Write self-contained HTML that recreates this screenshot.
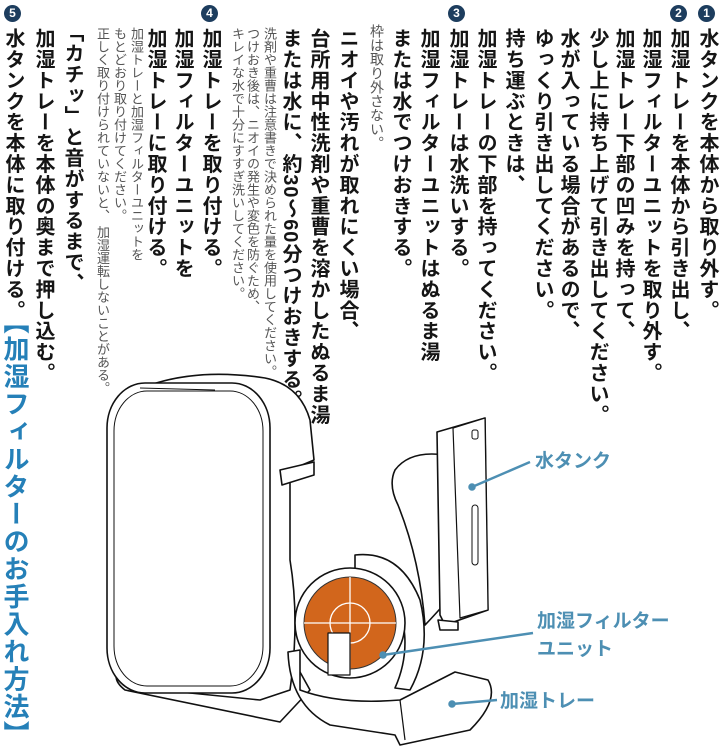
<!DOCTYPE html>
<html><head><meta charset="utf-8"><style>
html,body{margin:0;padding:0;background:#fff;}
body{width:720px;height:746px;position:relative;overflow:hidden;font-family:"Liberation Sans","Noto Sans CJK JP",sans-serif;}
.v{position:absolute;writing-mode:vertical-rl;white-space:nowrap;line-height:1;}
.m{font-size:20px;font-weight:bold;color:#151515;width:20px;letter-spacing:0.9px;}
.s{font-size:13px;color:#555;width:13px;}
.n{position:absolute;width:17px;height:17px;border-radius:50%;background:#1d3d5e;color:#fff;font:bold 12px "Liberation Sans",sans-serif;text-align:center;line-height:17px;}
.lbl{position:absolute;font-size:19px;font-weight:bold;color:#4d8fb3;white-space:nowrap;line-height:1;}
</style></head><body>
<div class="n" style="left:698px;top:5px">1</div>
<div class="v m" style="left:697px;top:28px">水タンクを本体から取り外す。</div>
<div class="n" style="left:670px;top:5px">2</div>
<div class="v m" style="left:668px;top:28px">加湿トレーを本体から引き出し、</div>
<div class="v m" style="left:640px;top:28px">加湿フィルターユニットを取り外す。</div>
<div class="v m" style="left:613px;top:28px">加湿トレー下部の凹みを持って、</div>
<div class="v m" style="left:587px;top:28px">少し上に持ち上げて引き出してください。</div>
<div class="v m" style="left:558px;top:28px">水が入っている場合があるので、</div>
<div class="v m" style="left:532px;top:28px">ゆっくり引き出してください。</div>
<div class="v m" style="left:503px;top:28px">持ち運ぶときは、</div>
<div class="v m" style="left:475px;top:28px">加湿トレーの下部を持ってください。</div>
<div class="n" style="left:448px;top:5px">3</div>
<div class="v m" style="left:447px;top:28px">加湿トレーは水洗いする。</div>
<div class="v m" style="left:418px;top:28px">加湿フィルターユニットはぬるま湯</div>
<div class="v m" style="left:390px;top:28px">または水でつけおきする。</div>
<div class="v s" style="left:370px;top:24px;font-size:14px;width:14px">枠は取り外さない。</div>

<div class="v m" style="left:337px;top:28px">ニオイや汚れが取れにくい場合、</div>
<div class="v m" style="left:308px;top:28px">台所用中性洗剤や重曹を溶かしたぬるま湯</div>
<div class="v m" style="left:280px;top:28px">または水に、約30〜60分つけおきする。</div>
<div class="v s" style="left:263px;top:27px">洗剤や重曹は注意書きで決められた量を使用してください。</div>
<div class="v s" style="left:246px;top:27px">つけおき後は、ニオイの発生や変色を防ぐため、</div>
<div class="v s" style="left:231px;top:27px">キレイな水で十分にすすぎ洗いしてください。</div>
<div class="n" style="left:201px;top:5px">4</div>
<div class="v m" style="left:200px;top:28px">加湿トレーを取り付ける。</div>
<div class="v m" style="left:172px;top:28px">加湿フィルターユニットを</div>
<div class="v m" style="left:145px;top:28px">加湿トレーに取り付ける。</div>
<div class="v s" style="left:130px;top:27px">加湿トレーと加湿フィルターユニットを</div>
<div class="v s" style="left:113px;top:27px">もとどおり取り付けてください。</div>
<div class="v s" style="left:96px;top:27px">正しく取り付けられていないと、&nbsp;加湿運転しないことがある。</div>
<div class="v m" style="left:62px;top:22px">「カチッ」と音がするまで、</div>
<div class="v m" style="left:33px;top:28px">加湿トレーを本体の奥まで押し込む。</div>
<div class="n" style="left:4px;top:5px">5</div>
<div class="v m" style="left:3px;top:28px">水タンクを本体に取り付ける。</div>
<div class="v" style="left:2px;top:308px;font-size:26px;font-weight:bold;color:#2580b8;width:26px;letter-spacing:1.5px">【加湿フィルターのお手入れ方法】</div>

<svg style="position:absolute;left:0;top:0" width="720" height="746" viewBox="0 0 720 746">
<g fill="#fff" stroke="#111" stroke-width="1.6" stroke-linejoin="round">
 <path d="M118 670 L300 672 L310 690 L280 722 L125 690 Q112 680 118 670Z"/>
 <path d="M150 385 Q200 368 265 378 Q300 385 310 420 L314 460 L290 470 L290 560 Q300 620 290 690 L260 700 L160 690Z"/>
 <path d="M280 470 L314 462 L314 475 L282 485Z"/>
 <rect x="107" y="383" width="163" height="310" rx="38" ry="45"/>
 <rect x="114" y="391" width="149" height="295" rx="33" ry="40" fill="none" stroke-width="1"/>
 <path d="M140 388 L215 390" stroke-width="1" fill="none"/>
 <path d="M395 470 Q410 450 445 455 L448 600 Q430 620 425 625 Q420 560 398 505 Q388 485 395 470Z"/>
 <path d="M437 432 L485 418 L488 610 L445 625 L440 615Z"/>
 <path d="M453 428 L485 418 L488 610 L460 618Z" stroke-width="1.2"/>
 <rect x="472" y="430" width="6" height="9" rx="2" stroke-width="1"/>
 <rect x="472" y="505" width="6" height="60" rx="3" stroke-width="1"/>
 <path d="M438 620 L458 622 L458 630 L440 630Z"/>
 <path d="M355 555 Q400 550 420 600 Q432 650 410 690 L395 688 Q412 650 400 610 Q385 575 355 570Z"/>
 <circle cx="350" cy="623" r="55"/>
 <circle cx="350" cy="623" r="46" fill="#d2661c" stroke="#333" stroke-width="1"/>
 <g stroke="#fff" stroke-width="1.3" fill="none">
  <circle cx="350" cy="623" r="20"/>
  <line x1="304" y1="623" x2="396" y2="623"/>
  <line x1="350" y1="577" x2="350" y2="669"/>
 </g>
 <rect x="328" y="633" width="22" height="42" stroke-width="1.2"/>
 <path d="M288 652 L300 650 L300 690 Q340 705 400 700 L455 672 L488 680 Q500 700 470 730 L400 745 L395 735 L330 725 Q290 705 288 652Z"/>
 <path d="M400 700 L405 740" stroke-width="1.2" fill="none"/>
</g>
<g stroke="#4d8fb3" stroke-width="2.5" fill="#4d8fb3">
 <line x1="472" y1="487" x2="530" y2="462"/><circle cx="472" cy="487" r="2.5"/>
 <line x1="383" y1="655" x2="533" y2="633"/><circle cx="383" cy="655" r="2.5"/>
 <line x1="452" y1="704" x2="497" y2="700"/><circle cx="452" cy="704" r="2.5"/>
</g>
</svg>
<div class="lbl" style="left:535px;top:452px">水タンク</div>
<div class="lbl" style="left:537px;top:612px">加湿フィルター</div>
<div class="lbl" style="left:537px;top:640px">ユニット</div>
<div class="lbl" style="left:500px;top:692px">加湿トレー</div>
</body></html>
